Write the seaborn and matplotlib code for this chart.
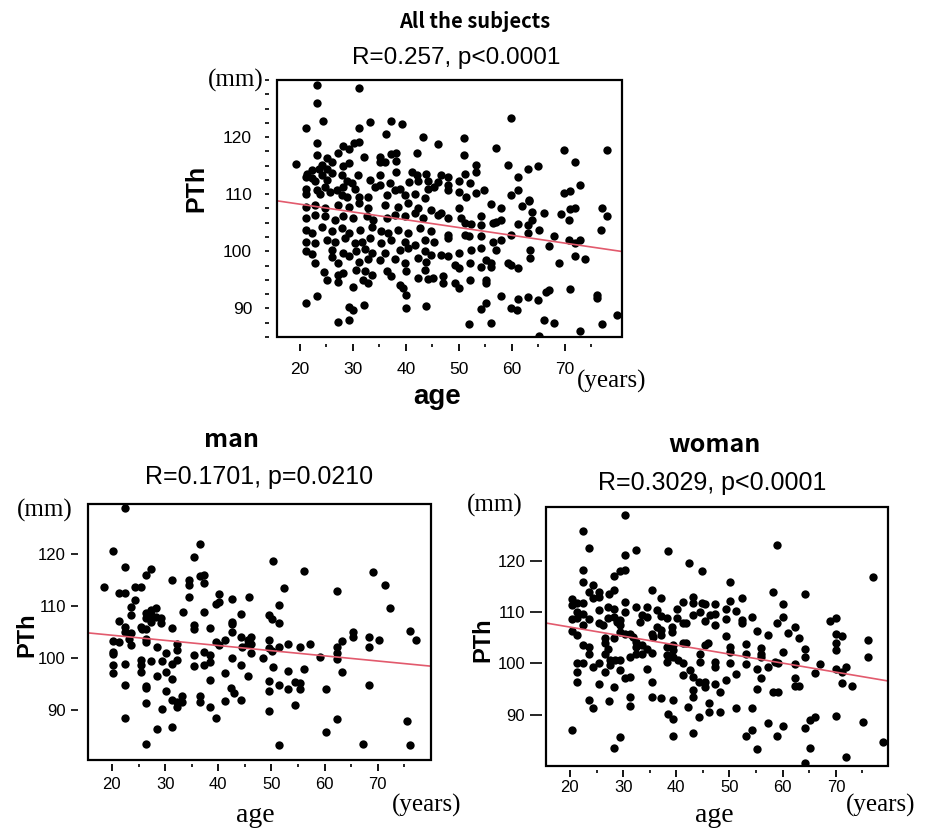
import matplotlib
matplotlib.use("Agg")
import matplotlib.pyplot as plt
from matplotlib.patches import Rectangle
from matplotlib.ticker import FixedLocator
import pandas as pd
import seaborn as sns

sns.set_theme(style="white")
plt.rcParams["font.family"] = ["Liberation Sans", "DejaVu Sans"]
plt.rcParams["text.color"] = "black"

# ---------------- all the subjects ----------------
all_age = [
    23.2, 31.1, 23.2, 24.3, 21.1, 31.1, 33.2, 37.3, 39.2, 36.2,
    43.2, 23.2, 28.1, 29.2, 30.3, 31.2, 46.1, 27.3, 23.2, 25.1,
    32.2, 35.1, 37.2, 38.1, 42.1, 19.2, 24.2, 26.1, 28.1, 29.2,
    35.1, 36.1, 38.1, 21.4, 22.3, 23.6, 25.1, 26.1, 24.2, 22.3,
    21.1, 22.9, 25.1, 27.9, 30.9, 28.9, 29.8, 33.2, 35.1, 38.1,
    41.1, 42.2, 43.9, 37.0, 40.6, 42.3, 44.2, 46.1, 21.1, 23.2,
    24.8, 27.0, 28.2, 30.4, 34.2, 35.1, 37.9, 38.9, 44.2, 45.4,
    21.1, 23.9, 25.7, 27.9, 28.9, 31.1, 32.9, 36.4, 39.8, 41.7,
    43.6,
    21.1, 22.9, 24.8, 27.3, 29.2, 31.1, 32.9, 36.1, 38.6, 40.4,
    42.3, 44.8, 21.1, 22.9, 24.8, 26.7, 28.2, 30.1, 32.6, 33.9,
    36.4, 37.9, 39.8, 41.7, 43.2, 46.1, 21.1, 22.3, 24.2, 26.1,
    27.9, 29.2, 31.4, 33.6, 35.4, 36.7, 38.6, 40.4, 42.6, 44.8,
    21.1, 22.9, 25.1, 26.7, 28.6, 30.4, 31.7, 33.2, 35.4, 37.3,
    39.8, 41.7, 43.6, 45.4, 21.1, 22.3, 26.1, 28.2, 30.7, 32.3,
    33.6, 36.1, 38.9, 40.4, 43.6, 44.8, 22.9, 26.1, 27.3, 29.2,
    31.1, 32.9, 35.1, 37.9, 39.8, 42.3, 43.9, 24.5, 27.3, 28.1,
    30.7, 32.3, 33.6, 36.4, 37.3, 40.1, 42.3, 43.6, 45.1, 25.1,
    27.3, 30.1, 32.0, 32.9, 38.9, 39.5, 40.1, 44.2, 23.2, 21.1,
    29.2, 30.1, 32.2, 40.1, 43.9, 27.3, 29.2,
    59.8, 51.0, 57.0, 69.8, 78.0, 51.0, 72.0, 53.3, 53.3, 59.2,
    63.1, 65.0, 61.1, 72.8, 46.7, 48.0, 51.1, 50.1, 52.2, 48.0,
    48.0, 53.3, 54.8, 50.1, 51.4, 61.1, 59.8, 69.8, 71.0, 63.3,
    50.1, 56.1, 58.0, 62.0, 63.3, 63.9, 66.1, 69.2, 71.0, 72.0,
    70.8, 77.0, 78.0, 76.9, 46.7, 48.0, 50.5, 51.1, 52.3, 54.1,
    54.1, 56.4, 57.0, 58.0, 61.1, 63.1, 63.9, 65.1, 63.1, 48.0,
    48.0, 51.1, 52.0, 54.2, 56.4, 57.0, 58.0, 59.8, 68.0, 70.8,
    72.0, 72.8, 67.0, 48.0, 50.1, 52.3, 54.1, 63.5, 63.5, 46.7,
    49.2, 50.1, 52.2, 54.1, 55.1, 56.1, 56.1, 59.2, 59.8, 61.1,
    68.9, 72.0, 73.9, 47.0, 47.0, 49.2, 50.1, 52.2, 55.1, 55.1,
    58.0, 61.1, 63.1, 65.0, 66.4, 67.0, 71.0, 76.1, 76.1, 54.1,
    55.1, 59.8, 61.0, 52.0, 56.1, 66.1, 68.0, 72.8, 77.0, 79.8,
    65.1,
]
all_pth = [
    129.1, 128.6, 125.9, 122.9, 121.6, 121.6, 122.6, 122.9, 122.3, 120.5,
    120.1, 118.9, 118.5, 118.0, 118.9, 119.1, 118.8, 117.3, 116.8, 116.4,
    116.6, 116.6, 117.0, 117.3, 117.3, 115.3, 115.2, 115.6, 115.0, 115.5,
    115.6, 115.6, 115.8, 113.6, 114.2, 114.4, 114.5, 113.8, 113.4, 112.8,
    113.1, 112.3, 112.5, 113.4, 113.4, 112.3, 111.9, 112.5, 113.4, 113.9,
    113.9, 113.4, 113.5, 111.9, 112.2, 112.3, 112.3, 112.2, 111.0, 110.7,
    111.3, 110.7, 111.3, 111.0, 111.3, 111.6, 110.7, 111.0, 111.0, 111.3,
    110.0, 110.0, 110.4, 109.9, 109.6, 109.6, 109.6, 109.9, 109.9, 110.1,
    109.3,
    107.8, 108.1, 107.5, 108.1, 107.8, 108.4, 107.5, 108.1, 107.8, 108.4,
    107.5, 107.2, 105.8, 106.4, 106.1, 105.5, 106.1, 105.8, 106.1, 105.5,
    105.8, 106.4, 106.1, 106.7, 105.8, 106.4, 103.7, 103.2, 104.3, 103.5,
    104.0, 103.2, 103.7, 104.3, 103.5, 103.2, 103.7, 103.2, 104.0, 103.5,
    101.7, 101.4, 102.0, 101.7, 102.3, 101.4, 101.7, 102.3, 101.4, 102.0,
    101.7, 101.1, 102.0, 101.7, 100.0, 99.5, 100.2, 99.7, 100.0, 100.4,
    99.7, 99.7, 100.2, 100.5, 100.0, 99.4, 98.0, 99.0, 97.9, 99.1,
    98.2, 98.6, 98.5, 98.6, 97.9, 98.8, 98.2, 96.3, 95.9, 96.2,
    96.8, 96.5, 95.9, 96.6, 95.7, 96.5, 95.3, 96.8, 95.3, 94.9,
    94.7, 93.7, 95.0, 94.5, 94.1, 93.5, 92.4, 95.1, 92.1, 90.9,
    90.3, 89.8, 90.6, 90.1, 90.5, 87.7, 88.0,
    123.4, 119.9, 118.1, 117.8, 117.8, 116.9, 115.6, 115.2, 113.9, 115.1,
    114.5, 114.9, 113.1, 111.6, 113.4, 113.1, 113.5, 112.3, 111.9, 111.6,
    110.7, 110.3, 110.7, 110.4, 109.6, 110.7, 109.9, 110.2, 110.6, 109.0,
    107.5, 108.3, 107.5, 107.9, 108.9, 106.9, 106.7, 106.5, 107.4, 107.5,
    105.5, 107.5, 106.1, 103.7, 106.7, 105.8, 105.8, 104.9, 104.8, 106.1,
    104.6, 104.9, 105.2, 105.4, 104.8, 104.6, 105.5, 103.7, 103.2, 102.9,
    102.3, 102.9, 102.6, 102.6, 101.7, 100.2, 102.0, 102.9, 102.6, 101.9,
    101.4, 102.0, 100.9, 99.1, 99.7, 100.2, 100.5, 100.2, 98.8, 99.4,
    97.6, 97.0, 98.0, 97.3, 98.5, 97.9, 97.3, 97.9, 97.6, 97.0,
    97.9, 99.2, 98.6, 95.7, 94.4, 94.4, 93.5, 95.0, 95.0, 94.4,
    92.1, 91.6, 92.0, 91.5, 92.8, 93.3, 93.4, 92.4, 91.8, 89.9,
    90.9, 90.0, 89.8, 87.3, 87.5, 88.0, 87.5, 86.1, 87.3, 88.9,
    85.1,
]

# ---------------- man ----------------
man_age = [
    22.4, 20.2, 22.4, 18.5, 21.3, 22.4, 24.3, 25.4, 24.3, 23.5,
    26.5, 27.4, 23.5, 21.3, 22.4, 22.4, 23.5, 23.2, 20.2, 21.3,
    20.2, 20.2, 20.2, 20.2, 22.4, 22.4, 23.5, 22.4, 25.4, 25.7,
    26.5, 26.5, 26.5, 27.3, 27.3, 28.2, 28.2, 29.3, 29.3, 26.5,
    26.5, 27.3, 28.4, 25.4, 25.4, 25.4, 27.3, 26.5, 26.5, 26.5,
    28.4, 29.4, 30.2, 31.3, 32.3, 32.3, 31.3, 32.3, 30.2, 31.3,
    30.2, 31.3, 32.3, 33.2, 33.2, 32.3, 29.4, 31.3, 28.4, 26.5,
    31.3, 34.4, 34.4, 34.4, 33.3, 35.4, 36.5, 36.5, 37.3, 37.3,
    35.4, 35.4, 37.3, 35.4, 35.4, 37.3, 37.3, 38.4, 38.4, 38.4,
    38.4, 36.5, 36.5, 38.4, 39.5, 39.5, 40.2, 40.2, 39.5, 40.2,
    41.3, 42.5, 44.3, 42.5, 42.5, 42.5, 44.3, 44.5, 45.5, 45.5,
    45.7, 42.5, 44.3, 45.5, 41.3, 42.3, 42.9, 44.3, 41.3,
    46.2, 46.2, 46.2, 48.4, 49.5, 50.1, 51.4, 51.4, 50.3, 52.4,
    49.5, 49.5, 50.1, 51.4, 50.3, 49.5, 49.5, 49.5, 51.4, 51.4,
    53.2, 53.2, 53.2, 54.4, 55.4, 55.4, 55.4, 54.4, 56.2, 56.2,
    57.3, 59.2, 60.3, 60.3, 62.4, 62.4, 62.4, 62.4, 63.3, 63.3,
    62.4, 65.3, 65.3, 68.3, 68.3, 70.2, 68.3, 69.1, 71.3, 72.2,
    67.2, 76.1, 77.2, 75.5, 76.1,
]
man_pth = [
    128.9, 120.6, 117.5, 113.7, 112.6, 112.6, 113.7, 113.7, 111.2, 109.9,
    115.9, 117.2, 108.3, 107.2, 106.1, 105.1, 104.8, 103.8, 103.4, 103.2,
    101.3, 100.8, 98.7, 97.1, 99.0, 94.9, 102.5, 88.5, 106.1, 105.7,
    105.7, 103.8, 103.2, 108.3, 109.3, 109.6, 108.0, 107.7, 106.7, 108.6,
    107.7, 107.0, 102.2, 99.7, 98.7, 97.4, 99.5, 94.6, 94.3, 91.4,
    96.6, 99.5, 101.1, 105.9, 102.7, 101.6, 99.0, 99.7, 97.4, 96.0,
    93.8, 92.0, 91.7, 92.8, 91.7, 90.7, 90.2, 86.9, 86.4, 83.6,
    115.1, 115.1, 114.0, 111.7, 108.8, 119.5, 122.0, 115.8, 116.0, 114.4,
    106.4, 105.7, 108.9, 100.6, 98.5, 101.3, 98.7, 105.9, 100.6, 99.3,
    95.8, 92.8, 91.7, 90.7, 88.6, 110.5, 110.8, 112.3, 103.2, 102.5,
    103.5, 111.3, 108.5, 107.0, 106.6, 105.1, 104.1, 102.2, 103.6, 102.7,
    111.8, 100.0, 98.7, 96.6, 97.2, 94.3, 93.4, 92.0, 91.9,
    104.1, 102.7, 101.1, 100.0, 108.3, 107.5, 106.8, 110.2, 118.6, 113.5,
    103.6, 102.0, 101.5, 102.2, 98.4, 95.7, 93.7, 89.9, 94.9, 83.4,
    102.7, 97.6, 94.1, 95.5, 102.2, 95.2, 94.1, 91.1, 116.7, 97.9,
    102.7, 100.3, 94.1, 85.9, 112.9, 102.2, 101.0, 99.8, 103.3, 97.3,
    88.3, 105.0, 104.1, 104.1, 102.2, 103.6, 94.9, 116.5, 114.0, 109.6,
    83.6, 105.3, 103.6, 88.0, 83.4,
]

# ---------------- woman ----------------
woman_age = [
    30.3, 22.5, 23.6, 32.4, 30.3, 38.4, 42.4, 44.9, 22.4, 22.4,
    28.3, 29.4, 30.3, 24.4, 23.6, 25.5, 25.5, 28.3, 27.4, 20.3,
    20.3, 21.3, 22.4, 24.4, 21.3, 20.3, 22.4, 21.3, 20.3, 21.3,
    22.4, 23.6, 22.4, 23.6, 23.6, 25.5, 25.5, 26.3, 27.2, 28.3,
    27.2, 28.3, 28.8, 29.4, 30.3, 30.3, 29.4, 26.6, 26.6, 27.2,
    26.6, 28.3, 29.4, 30.3, 31.3, 31.9, 32.4, 34.4, 33.5, 34.4,
    33.2, 35.4, 37.2, 36.3, 37.2, 38.2, 36.3, 35.4, 35.7, 37.2,
    37.2, 39.1, 39.1, 40.1, 41.3, 40.2, 41.3, 41.9, 43.2, 43.2,
    43.2, 44.9, 38.2, 38.2, 38.2, 39.4, 39.4, 39.4, 40.4, 41.3,
    41.9, 41.3, 42.6, 43.2, 41.3, 43.2, 43.2, 42.2, 44.3, 44.3,
    43.1, 39.4, 39.4, 38.4, 39.4, 37.2, 35.4, 35.4, 34.4, 35.4,
    34.4, 33.5, 32.4, 32.4, 33.5, 31.3, 32.4, 31.3, 30.3, 29.4,
    28.5, 29.4, 27.5, 26.6, 27.5, 25.5, 24.4, 25.5, 23.6, 24.4,
    27.3, 28.3, 31.3, 31.3, 29.4, 28.3, 20.3, 21.3, 22.4, 21.3,
    21.3, 44.4,
    59.0, 77.0, 50.1, 58.2, 64.2, 52.3, 50.1, 45.4, 47.3, 49.3,
    51.2, 60.1, 46.3, 47.3, 47.3, 45.4, 49.3, 52.3, 52.3, 54.2,
    59.0, 60.1, 62.3, 61.0, 68.9, 70.0, 55.2, 57.2, 49.3, 63.1,
    70.0, 71.1, 70.0, 70.0, 64.2, 64.2, 76.0, 76.0, 45.4, 46.0,
    50.1, 50.1, 53.1, 53.1, 55.9, 55.9, 55.9, 60.1, 44.4, 44.4,
    47.3, 47.3, 50.1, 53.1, 55.2, 57.2, 58.5, 59.2, 62.3, 66.1,
    67.1, 70.0, 71.1, 71.9, 51.2, 49.3, 45.4, 45.4, 47.3, 48.2,
    56.0, 55.2, 58.2, 59.2, 62.3, 62.3, 63.1, 71.1, 73.0, 46.2,
    46.2, 48.3, 51.2, 54.2, 54.2, 53.1, 57.2, 60.1, 59.0, 55.2,
    64.2, 65.1, 66.1, 65.1, 64.2, 70.0, 75.1, 71.9, 78.8,
]
woman_pth = [
    128.9, 125.8, 122.5, 122.2, 121.1, 121.9, 119.5, 118.1, 118.3, 115.9,
    117.0, 118.0, 118.2, 115.3, 114.0, 114.0, 112.9, 114.4, 113.6, 112.5,
    111.4, 111.7, 111.8, 112.7, 110.1, 108.6, 109.7, 108.9, 106.3, 105.5,
    107.5, 108.6, 103.6, 103.2, 101.9, 110.4, 107.8, 107.5, 111.0, 110.7,
    108.8, 109.1, 108.1, 107.5, 112.0, 110.1, 108.4, 104.9, 103.9, 102.9,
    101.9, 104.9, 106.2, 105.8, 105.8, 105.2, 111.0, 111.0, 109.4, 109.1,
    108.1, 114.4, 112.7, 110.5, 109.2, 108.8, 107.1, 105.8, 105.2, 106.5,
    105.5, 107.1, 106.2, 110.7, 112.0, 108.8, 107.9, 107.9, 112.9, 111.7,
    109.4, 111.7, 103.2, 101.6, 100.3, 103.6, 102.6, 101.3, 100.6, 103.9,
    103.9, 100.0, 98.7, 97.4, 97.7, 94.8, 93.5, 91.5, 96.4, 89.6,
    86.5, 92.8, 89.1, 90.1, 85.8, 93.2, 93.4, 96.4, 99.0, 102.1,
    102.9, 103.6, 104.2, 101.9, 101.9, 101.3, 103.2, 97.4, 97.1, 98.7,
    100.6, 100.6, 100.6, 98.4, 99.7, 100.1, 99.3, 96.0, 92.8, 91.4,
    92.6, 95.4, 93.5, 91.7, 85.6, 83.6, 87.0, 100.1, 100.1, 98.4,
    96.4, 110.1,
    123.1, 116.9, 115.8, 113.9, 113.5, 112.7, 112.2, 111.6, 111.6, 110.7,
    110.3, 111.6, 109.4, 109.7, 107.5, 108.3, 108.6, 108.4, 107.9, 109.1,
    107.9, 109.1, 107.1, 106.0, 108.2, 108.9, 106.3, 105.5, 105.4, 104.9,
    105.7, 105.3, 104.0, 102.6, 102.9, 101.3, 104.5, 101.3, 103.6, 103.9,
    103.2, 102.3, 103.8, 101.8, 103.1, 101.9, 101.3, 102.3, 101.9, 100.3,
    100.3, 99.3, 100.1, 99.9, 99.0, 99.3, 100.3, 100.1, 99.9, 98.2,
    99.9, 99.0, 98.4, 99.3, 97.9, 96.7, 96.4, 95.4, 96.0, 94.5,
    97.1, 95.0, 94.5, 94.5, 97.1, 95.6, 95.6, 96.2, 95.6, 92.3,
    90.6, 90.6, 91.4, 91.4, 87.0, 85.8, 88.4, 87.8, 85.8, 83.4,
    87.5, 88.9, 89.5, 83.6, 80.5, 89.7, 88.6, 81.7, 84.7,
]

x_major = [20, 30, 40, 50, 60, 70]
x_minor = [15, 25, 35, 45, 55, 65, 75]
y_major = [90, 100, 110, 120]
top_y_minor = [85, 87.5, 92.5, 95, 97.5, 102.5, 105, 107.5,
               112.5, 115, 117.5, 122.5, 125, 127.5, 130]

W, H = 935, 830
fig = plt.figure(figsize=(W / 100, H / 100), dpi=100)
fig.patch.set_facecolor("white")

SANS = ["Liberation Sans", "DejaVu Sans"]
NARROW = ["Liberation Sans Narrow", "Liberation Sans", "DejaVu Sans"]
SERIF = ["Liberation Serif", "DejaVu Serif"]
GOTHIC = ["Noto Sans CJK JP", "DejaVu Sans"]
RED = "#e25a6d"


def px_axes(x0, y0, x1, y1):
    return fig.add_axes([x0 / W, 1 - y1 / H, (x1 - x0) / W, (y1 - y0) / H])


def ftext(x, y, s, **kw):
    fig.text(x / W, 1 - y / H, s, ha="center", va="center", color="black", **kw)


def draw_panel(ax, age, pth, xlim, ylim, y_minor, tick_family, tick_size,
               xgap, ygap, ylen, xpad, ypad):
    df = pd.DataFrame({"age": age, "PTh": pth})
    ax.set_xlim(*xlim)
    ax.set_ylim(*ylim)
    sns.regplot(data=df, x="age", y="PTh", ax=ax, ci=None, truncate=False,
                color="black",
                scatter_kws={"s": 36, "linewidths": 0, "alpha": 1,
                             "zorder": 3},
                line_kws={"color": RED, "lw": 1.2, "zorder": 4})
    ax.set_xlim(*xlim)
    ax.set_ylim(*ylim)
    ax.set_xlabel("")
    ax.set_ylabel("")
    ax.set_facecolor("white")
    for sp in ax.spines.values():
        sp.set_visible(False)
    ax.spines["bottom"].set_position(("outward", xgap))
    ax.spines["left"].set_position(("outward", ygap))
    ax.add_patch(Rectangle((0, 0), 1, 1, transform=ax.transAxes, fill=False,
                           lw=1.6, edgecolor="black", clip_on=False, zorder=6))
    ax.xaxis.set_major_locator(FixedLocator(x_major))
    ax.xaxis.set_minor_locator(FixedLocator(x_minor))
    ax.yaxis.set_major_locator(FixedLocator(y_major))
    ax.yaxis.set_minor_locator(FixedLocator(y_minor))
    ax.tick_params(axis="x", which="major", bottom=True, direction="out",
                   length=5, width=1.3, color="black", pad=xpad,
                   labelsize=tick_size, labelcolor="black")
    ax.tick_params(axis="x", which="minor", bottom=True, direction="out",
                   length=2.5, width=1.2, color="black")
    ax.tick_params(axis="y", which="major", left=True, direction="out",
                   length=ylen, width=1.2, color="black", pad=ypad,
                   labelsize=tick_size, labelcolor="black")
    ax.tick_params(axis="y", which="minor", left=True, direction="out",
                   length=ylen, width=1.2, color="black")
    for lab in ax.get_xticklabels() + ax.get_yticklabels():
        lab.set_family(tick_family)


# all the subjects
ax_all = px_axes(277, 80, 622, 337)
draw_panel(ax_all, all_age, all_pth, (15.7, 80.8), (85.0, 130.0),
           top_y_minor, SANS, 12.5, 5, 6, 3, 8, 9)

# man
ax_man = px_axes(88, 504, 431, 760)
draw_panel(ax_man, man_age, man_pth, (15.5, 80.0), (80.5, 129.6),
           [], NARROW, 12, 3, 7, 5, 4, 4)

# woman
ax_wom = px_axes(546, 507, 888, 766)
draw_panel(ax_wom, woman_age, woman_pth, (15.5, 79.8), (80.0, 130.5),
           [], NARROW, 12, 3, 3, 9, 2, 3)

# titles and axis captions
ftext(475, 22, "All the subjects", fontsize=14.5, fontweight="bold", family=GOTHIC)
ftext(456, 58, "R=0.257, p<0.0001", fontsize=17.5, family=NARROW)
ftext(236, 80, "(mm)", fontsize=18, family=SERIF)
ftext(196, 188, "PTh", fontsize=18, fontweight="bold", rotation=90, family=SANS)
ftext(437, 397, "age", fontsize=20, fontweight="bold", family=SANS)
ftext(612, 381, "(years)", fontsize=18, family=SERIF)

ftext(231, 440, "man", fontsize=18, fontweight="bold", family=GOTHIC)
ftext(259, 477, "R=0.1701, p=0.0210", fontsize=18, family=NARROW)
ftext(45, 510, "(mm)", fontsize=18, family=SERIF)
ftext(27, 635, "PTh", fontsize=17, fontweight="bold", rotation=90, family=SANS)
ftext(255, 815, "age", fontsize=20, family=SERIF)
ftext(427, 805, "(years)", fontsize=18, family=SERIF)

ftext(714, 445, "woman", fontsize=18, fontweight="bold", family=GOTHIC)
ftext(712, 483, "R=0.3029, p<0.0001", fontsize=18, family=NARROW)
ftext(495, 505, "(mm)", fontsize=18, family=SERIF)
ftext(483, 640, "PTh", fontsize=17, fontweight="bold", rotation=90, family=SANS)
ftext(714, 815, "age", fontsize=20, family=SERIF)
ftext(881, 805, "(years)", fontsize=18, family=SERIF)

fig.savefig("out.png", dpi=100, facecolor="white")
